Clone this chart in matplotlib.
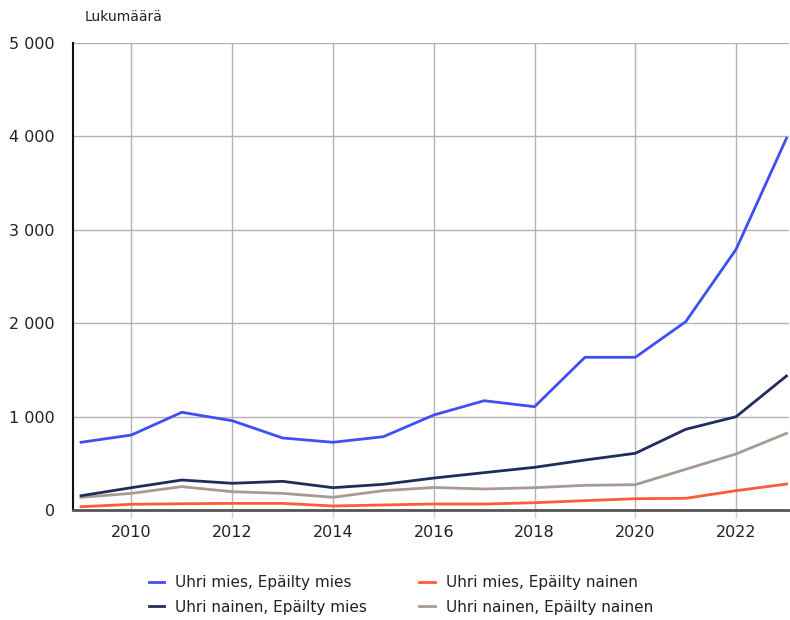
import matplotlib
matplotlib.use("Agg")
import matplotlib.pyplot as plt
from matplotlib.ticker import FuncFormatter, MultipleLocator

years = list(range(2009, 2024))
mies_mies = [725, 803, 1046, 956, 771, 725, 785, 1017, 1170, 1106, 1635, 1635, 2016, 2791, 3980]
nainen_mies = [153, 239, 321, 286, 307, 239, 275, 342, 400, 457, 535, 607, 864, 999, 1435]
mies_nainen = [35, 61, 67, 71, 71, 43, 54, 64, 64, 78, 100, 121, 125, 207, 278]
nainen_nainen = [136, 178, 250, 196, 178, 136, 207, 241, 225, 239, 264, 271, 436, 600, 821]

labels = ["Uhri mies, Epäilty mies", "Uhri nainen, Epäilty mies",
          "Uhri mies, Epäilty nainen", "Uhri nainen, Epäilty nainen"]
series = [mies_mies, nainen_mies, mies_nainen, nainen_nainen]
colors = ["#3f4ff5", "#1f2d5c", "#ff5a3a", "#a89a93"]

plt.rcParams['font.family'] = ['DejaVu Sans']
fig = plt.figure(figsize=(7.9, 6.2), dpi=100)
ax = fig.add_axes([73/790, 1-510/620, (789-73)/790, (510-43)/620])

hmap = {}
for i in [3, 2, 1, 0]:
    h, = ax.plot(years, series[i], color=colors[i], lw=2.0, label=labels[i], zorder=3 + (3 - i))
    hmap[i] = h

ax.set_xlim(2008.84, 2023.05)
ax.set_ylim(0, 5000)
ax.yaxis.set_major_locator(MultipleLocator(1000))
ax.set_xticks(range(2010, 2023, 2))
ax.yaxis.set_major_formatter(FuncFormatter(lambda v, p: f"{int(v):,}".replace(",", " ")))
ax.grid(True, color="#b3b3b3", lw=1)
ax.set_axisbelow(True)
for s in ["top", "right"]:
    ax.spines[s].set_visible(False)
ax.spines["left"].set_color("#111111")
ax.spines["left"].set_linewidth(1.5)
ax.spines["bottom"].set_color("#555555")
ax.spines["bottom"].set_linewidth(2)
ax.tick_params(axis="y", length=0, pad=13, labelsize=11.5, labelcolor="#222222")
ax.tick_params(axis="x", length=6, color="#c8d4f0", width=1, pad=5, labelsize=11.5, labelcolor="#222222")

fig.text(85/790, 1-17/620, "Lukumäärä", fontsize=10, color="#222222", va="center", ha="left")

leg = fig.legend([hmap[0], hmap[1], hmap[2], hmap[3]], labels, loc="center",
                 bbox_to_anchor=(401/790, 1-595/620), ncol=2, frameon=False,
                 fontsize=11, handlelength=1.0, handletextpad=0.75, columnspacing=3.4,
                 labelspacing=0.6)
for t in leg.get_texts():
    t.set_color("#222222")

fig.savefig("out.png", dpi=100)
